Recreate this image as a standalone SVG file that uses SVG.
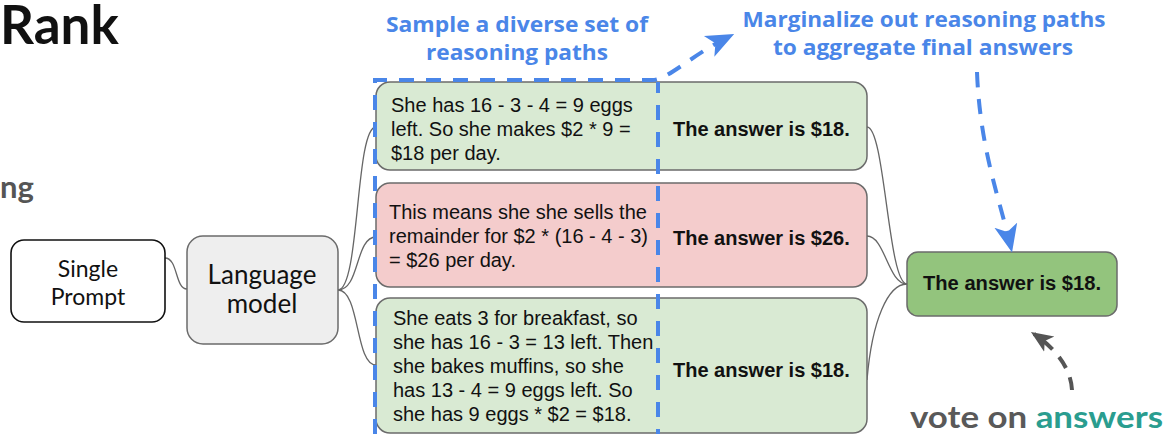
<svg xmlns="http://www.w3.org/2000/svg" width="1167" height="434" viewBox="0 0 1167 434">
<style>
.box{stroke:#6b6b6b;stroke-width:1.5}
.t{font-family:"Liberation Sans",Arial,sans-serif;font-size:20px;fill:#111}
.b{font-family:"Liberation Sans",Arial,sans-serif;font-size:20px;font-weight:bold;fill:#111}
.lato{font-family:Lato,"Liberation Sans",sans-serif;fill:#111}
.blue{font-family:"Open Sans","Liberation Sans",sans-serif;font-weight:bold;font-size:21px;fill:#4a86e8}
.conn{fill:none;stroke:#666;stroke-width:1.3}
.dash{fill:none;stroke:#4a86e8;stroke-width:4;stroke-dasharray:15 12}
</style>
<defs>
<marker id="ab" markerUnits="userSpaceOnUse" markerWidth="28" markerHeight="28" viewBox="0 0 12 10" refX="10" refY="5" orient="auto">
<path d="M0,0 L12,5 L0,10 L3,5 z" fill="#4a86e8"/>
</marker>
<marker id="ag" markerUnits="userSpaceOnUse" markerWidth="22" markerHeight="22" viewBox="0 0 12 10" refX="10" refY="5" orient="auto">
<path d="M0,0 L12,5 L0,10 L3,5 z" fill="#555"/>
</marker>
</defs>
<rect width="1167" height="434" fill="#fff"/>

<text x="0" y="44" class="lato" font-size="53" font-weight="bold" fill="#1a1a1a">Rank</text>
<text x="0" y="198" class="lato" font-size="31" font-weight="bold" style="fill:#555">ng</text>

<text x="517" y="32" class="blue" text-anchor="middle" textLength="262" lengthAdjust="spacingAndGlyphs">Sample a diverse set of</text>
<text x="517" y="60" class="blue" text-anchor="middle" textLength="182" lengthAdjust="spacingAndGlyphs">reasoning paths</text>
<text x="924" y="27" class="blue" text-anchor="middle" textLength="363" lengthAdjust="spacingAndGlyphs">Marginalize out reasoning paths</text>
<text x="923" y="55" class="blue" text-anchor="middle" textLength="300" lengthAdjust="spacingAndGlyphs">to aggregate final answers</text>

<g id="connectors">
<path class="conn" d="M165,258 C178,258 175,289 187,289"/>
<path class="conn" d="M338,290 C360,290 355,127 376,127"/>
<path class="conn" d="M338,290 C360,290 355,237 376,237"/>
<path class="conn" d="M338,290 C360,290 355,365 376,365"/>
<path class="conn" d="M867,127 C885,127 888,284 907,284"/>
<path class="conn" d="M867,236 C885,236 888,284 907,284"/>
<path class="conn" d="M867,380 C872,320 888,284 907,284"/>
</g>

<g id="single-prompt">
<rect x="11" y="240" width="154" height="82" rx="13" fill="#fff" stroke="#111" stroke-width="1.6"/>
<text x="88" y="277" class="lato" font-size="23" text-anchor="middle">Single</text>
<text x="88" y="305" class="lato" font-size="23" text-anchor="middle">Prompt</text>
</g>

<g id="language-model">
<rect x="187" y="236" width="151" height="108" rx="16" fill="#eeeeee" class="box"/>
<text x="262" y="284" class="lato" font-size="26" text-anchor="middle">Language</text>
<text x="262" y="313" class="lato" font-size="26" text-anchor="middle">model</text>
</g>

<g id="path1">
<rect x="376" y="82" width="491" height="88" rx="14" fill="#d9ead3" class="box"/>
<text class="t" x="391" y="112">She has 16 - 3 - 4 = 9 eggs</text>
<text class="t" x="391" y="136">left. So she makes $2 * 9 =</text>
<text class="t" x="391" y="160">$18 per day.</text>
<text class="b" x="673" y="136">The answer is $18.</text>
</g>

<g id="path2">
<rect x="376" y="183" width="491" height="104" rx="14" fill="#f4cccc" class="box"/>
<text class="t" x="389" y="219">This means she she sells the</text>
<text class="t" x="389" y="243">remainder for $2 * (16 - 4 - 3)</text>
<text class="t" x="389" y="267">= $26 per day.</text>
<text class="b" x="673" y="245">The answer is $26.</text>
</g>

<g id="path3">
<rect x="376" y="298" width="491" height="135" rx="14" fill="#d9ead3" class="box"/>
<text class="t" x="393" y="325">She eats 3 for breakfast, so</text>
<text class="t" x="393" y="349">she has 16 - 3 = 13 left. Then</text>
<text class="t" x="393" y="373">she bakes muffins, so she</text>
<text class="t" x="393" y="397">has 13 - 4 = 9 eggs left. So</text>
<text class="t" x="393" y="421">she has 9 eggs * $2 = $18.</text>
<text class="b" x="673" y="377">The answer is $18.</text>
</g>

<g id="final-answer">
<rect x="907" y="252" width="210" height="64" rx="11" fill="#93c47d" class="box"/>
<text class="b" x="1012" y="290" text-anchor="middle" textLength="178" lengthAdjust="spacingAndGlyphs">The answer is $18.</text>
</g>

<g id="annotations">
<path class="dash" d="M375,434 V80 H652 C668,80 690,56 730,36" marker-end="url(#ab)"/>
<path class="dash" d="M658,82 V434" stroke-dashoffset="4"/>
<path class="dash" d="M977,72 C980,150 1000,200 1011,248" marker-end="url(#ab)"/>
<path d="M1072,390 C1071,368 1055,348 1034,334" fill="none" stroke="#555" stroke-width="4" stroke-dasharray="13 10" marker-end="url(#ag)"/>
<text x="910" y="428" class="lato" font-size="30" font-weight="bold" textLength="253" lengthAdjust="spacingAndGlyphs"><tspan style="fill:#595959">vote on </tspan><tspan style="fill:#2a9d8f">answers</tspan></text>
</g>
</svg>
